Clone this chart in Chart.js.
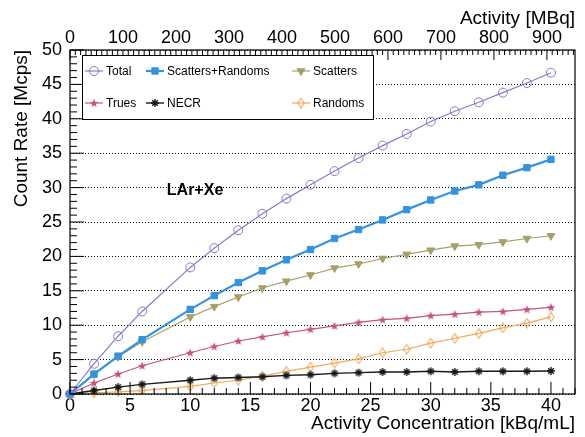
<!DOCTYPE html>
<html>
<head>
<meta charset="utf-8">
<script src="https://cdn.jsdelivr.net/npm/chart.js@4.4.1/dist/chart.umd.min.js"></script>
<style>
  html, body { margin: 0; padding: 0; background: #fff; }
  #chart { display: block; }
</style>
</head>
<body>
<canvas id="chart" width="585" height="437"></canvas>
<script>
// activity concentration [kBq/mL]
const concentration = [0, 2, 4, 6, 10, 12, 14, 16, 18, 20, 22, 24, 26, 28, 30, 32, 34, 36, 38, 40];

// count rates [Mcps]
const total       = [0, 4.4, 8.4, 12.0, 18.4, 21.2, 23.8, 26.2, 28.4, 30.4, 32.4, 34.3, 36.1, 37.8, 39.6, 41.1, 42.4, 43.8, 45.2, 46.7];
const scatRandoms = [0, 2.9, 5.5, 7.9, 12.3, 14.3, 16.2, 17.9, 19.5, 21.0, 22.6, 23.9, 25.3, 26.8, 28.2, 29.5, 30.4, 31.8, 32.9, 34.1];
const scatters    = [0, 2.9, 5.4, 7.6, 11.2, 12.7, 14.1, 15.4, 16.4, 17.3, 18.3, 18.9, 19.7, 20.3, 20.9, 21.5, 21.7, 22.1, 22.6, 23.0];
const trues       = [0, 1.6, 2.9, 4.1, 6.0, 6.9, 7.7, 8.3, 8.9, 9.4, 9.9, 10.4, 10.8, 11.0, 11.4, 11.6, 11.9, 12.0, 12.3, 12.6];
const necr        = [0, 0.5, 1.0, 1.4, 2.0, 2.3, 2.4, 2.5, 2.7, 2.8, 3.0, 3.1, 3.2, 3.2, 3.3, 3.2, 3.3, 3.3, 3.3, 3.35];
const randoms     = [0, 0.15, 0.3, 0.5, 1.1, 1.6, 2.0, 2.6, 3.3, 3.9, 4.5, 5.1, 6.0, 6.5, 7.4, 8.1, 8.8, 9.6, 10.3, 11.2];

// tick labels
const concTicks = [0, 5, 10, 15, 20, 25, 30, 35, 40];
const activityTicks = [0, 100, 200, 300, 400, 500, 600, 700, 800, 900];
const rateTicks = [0, 5, 10, 15, 20, 25, 30, 35, 40, 45, 50];

const FONT = '"Liberation Sans", Arial, Helvetica, sans-serif';
Chart.defaults.color = '#000';
Chart.defaults.font.family = FONT;

function makeStar(color) {
  const c = document.createElement('canvas');
  c.width = 10; c.height = 10;
  const g = c.getContext('2d');
  g.fillStyle = color;
  g.beginPath();
  for (let i = 0; i < 10; i++) {
    const r = i % 2 === 0 ? 4.6 : 1.9;
    const a = -Math.PI / 2 + i * Math.PI / 5;
    g.lineTo(5 + r * Math.cos(a), 5.4 + r * Math.sin(a));
  }
  g.closePath();
  g.fill();
  return c;
}

function makeDiamond(color) {
  const c = document.createElement('canvas');
  c.width = 8; c.height = 11;
  const g = c.getContext('2d');
  g.strokeStyle = color;
  g.lineWidth = 1.1;
  g.beginPath();
  g.moveTo(4, 0.8); g.lineTo(7.2, 5.5); g.lineTo(4, 10.2); g.lineTo(0.8, 5.5);
  g.closePath();
  g.stroke();
  return c;
}

// ROOT style "*" marker: plus and cross
function makeAsterisk(color) {
  const c = document.createElement('canvas');
  c.width = 10; c.height = 10;
  const g = c.getContext('2d');
  g.strokeStyle = color;
  g.lineWidth = 1.4;
  g.beginPath();
  g.moveTo(5, 1); g.lineTo(5, 9);
  g.moveTo(1, 5); g.lineTo(9, 5);
  g.moveTo(2.2, 2.2); g.lineTo(7.8, 7.8);
  g.moveTo(7.8, 2.2); g.lineTo(2.2, 7.8);
  g.stroke();
  return c;
}

const pts = ys => concentration.map((x, i) => ({ x: x, y: ys[i] }));

function series(label, values, color, extra) {
  return Object.assign({
    label: label,
    data: pts(values),
    borderColor: color,
    backgroundColor: color,
    pointBorderColor: color,
    pointBackgroundColor: color,
    borderWidth: 1.2,
    pointRadius: 4,
    pointBorderWidth: 1,
    tension: 0,
    clip: false
  }, extra);
}

const datasets = [
  series('Total', total, 'rgb(135,120,205)', { pointStyle: 'circle', pointRadius: 4.5, pointBackgroundColor: 'rgba(0,0,0,0)' }),
  series('Scatters+Randoms', scatRandoms, 'rgb(55,146,220)', { pointStyle: 'rect', pointRadius: 4.5, borderWidth: 2.2 }),
  series('Scatters', scatters, 'rgb(166,160,104)', { pointStyle: 'triangle', pointRotation: 180, pointRadius: 4.5 }),
  series('Trues', trues, 'rgb(196,84,128)', { pointStyle: makeStar('rgb(196,84,128)') }),
  series('NECR', necr, 'rgb(25,25,25)', { pointStyle: makeAsterisk('rgb(25,25,25)'), borderWidth: 1.4 }),
  series('Randoms', randoms, 'rgb(236,170,90)', { pointStyle: makeDiamond('rgb(236,170,90)') })
];

// ROOT-like frame, inward ticks, legend box and label
const rootStyle = {
  id: 'rootStyle',
  afterDraw(chart) {
    const ctx = chart.ctx;
    const { left, right, top, bottom } = chart.chartArea;
    const xs = chart.scales.x, x2 = chart.scales.x2, ys = chart.scales.y;
    ctx.save();
    ctx.strokeStyle = '#000';
    ctx.lineWidth = 1.2;
    ctx.strokeRect(left, top, right - left, bottom - top);

    ctx.lineWidth = 1;
    ctx.beginPath();
    for (let v = 0; v <= xs.max; v++) {
      const px = xs.getPixelForValue(v);
      const len = v % 5 === 0 ? 12 : 6;
      ctx.moveTo(px, bottom); ctx.lineTo(px, bottom - len);
    }
    for (let v = 0; v <= ys.max; v++) {
      const py = ys.getPixelForValue(v);
      const len = v % 5 === 0 ? 14 : 7;
      ctx.moveTo(left, py); ctx.lineTo(left + len, py);
    }
    for (let v = 0; v <= x2.max; v += 10) {
      const px = x2.getPixelForValue(v);
      const len = v % 100 === 0 ? 10 : 5;
      ctx.moveTo(px, top); ctx.lineTo(px, top + len);
    }
    ctx.stroke();

    // legend
    const bx = 82, by = 55, bw = 291, bh = 64;
    ctx.fillStyle = '#fff';
    ctx.fillRect(bx, by, bw, bh);
    ctx.strokeStyle = '#000';
    ctx.lineWidth = 1;
    ctx.strokeRect(bx + 0.5, by + 0.5, bw, bh);
    const cols = [3, 64, 210];
    const rows = [16, 48];
    ctx.font = '12px ' + FONT;
    ctx.textBaseline = 'middle';
    ctx.textAlign = 'left';
    datasets.forEach((ds, i) => {
      const lx = bx + cols[i % 3];
      const ly = by + rows[Math.floor(i / 3)];
      ctx.strokeStyle = ds.borderColor;
      ctx.lineWidth = ds.borderWidth;
      ctx.beginPath();
      ctx.moveTo(lx, ly); ctx.lineTo(lx + 18, ly);
      ctx.stroke();
      ctx.fillStyle = ds.pointBackgroundColor;
      ctx.strokeStyle = ds.pointBorderColor;
      ctx.lineWidth = ds.pointBorderWidth;
      Chart.helpers.drawPoint(ctx, {
        pointStyle: ds.pointStyle,
        rotation: ds.pointRotation || 0,
        radius: ds.pointRadius,
        borderWidth: ds.pointBorderWidth
      }, lx + 9, ly);
      ctx.fillStyle = '#000';
      ctx.fillText(ds.label, lx + 21, ly + 0.5);
    });

    ctx.font = 'bold 16px ' + FONT;
    ctx.textAlign = 'center';
    ctx.fillStyle = '#000';
    ctx.fillText('LAr+Xe', xs.getPixelForValue(10.4), ys.getPixelForValue(29.6));
    ctx.restore();
  }
};

new Chart(document.getElementById('chart'), {
  type: 'line',
  data: { datasets: datasets },
  options: {
    responsive: false,
    animation: false,
    devicePixelRatio: 1,
    layout: { padding: { right: 10 } },
    plugins: { legend: { display: false }, tooltip: { enabled: false } },
    scales: {
      x: {
        type: 'linear',
        position: 'bottom',
        min: 0,
        max: 42,
        afterBuildTicks: s => { s.ticks = concTicks.map(v => ({ value: v })); },
        afterFit: s => { s.height = 43; },
        ticks: { font: { size: 18 }, padding: 1, maxRotation: 0, autoSkip: false },
        grid: { display: false, drawTicks: false },
        border: { display: false },
        title: { display: true, text: 'Activity Concentration [kBq/mL]', align: 'end', font: { size: 19 }, padding: { top: 0, bottom: 2 } }
      },
      x2: {
        type: 'linear',
        position: 'top',
        display: true,
        min: 0,
        max: 953,
        afterBuildTicks: s => { s.ticks = activityTicks.map(v => ({ value: v })); },
        afterFit: s => { s.height = 50; },
        ticks: { font: { size: 18 }, padding: 1, maxRotation: 0, autoSkip: false },
        grid: { display: false, drawTicks: false },
        border: { display: false },
        title: { display: true, text: 'Activity [MBq]', align: 'end', font: { size: 19 }, padding: { top: 7, bottom: 0 } }
      },
      y: {
        type: 'linear',
        position: 'left',
        min: 0,
        max: 50,
        afterBuildTicks: s => { s.ticks = rateTicks.map(v => ({ value: v })); },
        afterFit: s => { s.width = 70; },
        ticks: { font: { size: 18 }, padding: 8, autoSkip: false },
        grid: { color: '#000', lineWidth: 1, drawTicks: false },
        border: { display: false, dash: [1, 2] },
        title: { display: true, text: 'Count Rate [Mcps]', align: 'end', font: { size: 19 }, padding: { top: 10, bottom: 0 } }
      }
    }
  },
  plugins: [rootStyle]
});
</script>
</body>
</html>
